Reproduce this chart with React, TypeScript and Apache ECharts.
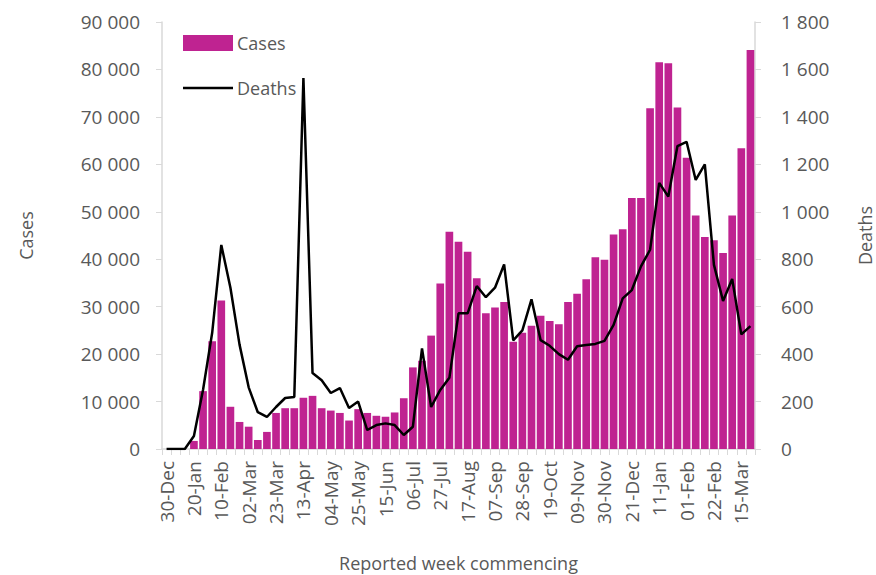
import React, { useEffect, useRef } from "react";
import * as echarts from "echarts";

const weeks = [
  "30-Dec", "06-Jan", "13-Jan", "20-Jan", "27-Jan", "03-Feb", "10-Feb", "17-Feb", "24-Feb", "02-Mar",
  "09-Mar", "16-Mar", "23-Mar", "30-Mar", "06-Apr", "13-Apr", "20-Apr", "27-Apr", "04-May", "11-May",
  "18-May", "25-May", "01-Jun", "08-Jun", "15-Jun", "22-Jun", "29-Jun", "06-Jul", "13-Jul", "20-Jul",
  "27-Jul", "03-Aug", "10-Aug", "17-Aug", "24-Aug", "31-Aug", "07-Sep", "14-Sep", "21-Sep", "28-Sep",
  "05-Oct", "12-Oct", "19-Oct", "26-Oct", "02-Nov", "09-Nov", "16-Nov", "23-Nov", "30-Nov", "07-Dec",
  "14-Dec", "21-Dec", "28-Dec", "04-Jan", "11-Jan", "18-Jan", "25-Jan", "01-Feb", "08-Feb", "15-Feb",
  "22-Feb", "01-Mar", "08-Mar", "15-Mar", "22-Mar",
];

const cases = [
  0, 0, 0, 1700, 12200, 22700, 31300, 8900, 5700, 4700,
  1900, 3600, 7600, 8600, 8600, 10800, 11200, 8600, 8100, 7600,
  6000, 8400, 7600, 7000, 6800, 7700, 10700, 17200, 18600, 23900,
  34900, 45800, 43700, 41600, 36000, 28600, 29800, 31000, 22600, 24500,
  26000, 28100, 27000, 26300, 31000, 32700, 35800, 40400, 39900, 45200,
  46300, 52900, 52900, 71800, 81500, 81300, 72000, 61400, 49200, 44700,
  44000, 41300, 49200, 63400, 84100,
];

const deaths = [
  0, 0, 0, 55, 250, 490, 860, 680, 440, 260,
  155, 135, 177, 215, 219, 1564, 320, 290, 236, 257,
  173, 200, 80, 101, 108, 101, 59, 94, 424, 177,
  249, 300, 572, 572, 687, 640, 680, 778, 458, 500,
  631, 459, 435, 400, 376, 433, 438, 443, 456, 523,
  635, 670, 770, 840, 1122, 1064, 1277, 1295, 1134, 1200,
  776, 624, 717, 483, 518,
];

const FONT = "Open Sans";
const GREY = "#595959";
const AXIS = "#d9d9d9";

const fmt = (v: number) => String(v).replace(/\B(?=(\d{3})+(?!\d))/g, " ");

export default function App() {
  const ref = useRef<HTMLDivElement>(null);
  useEffect(() => {
    if (!ref.current) return;
    const chart = echarts.init(ref.current, null, { renderer: "svg" });
    chart.setOption({
      animation: false,
      backgroundColor: "#ffffff",
      textStyle: { fontFamily: FONT },
      grid: { left: 162, right: 121, top: 22, bottom: 126, outerBoundsMode: "none", containLabel: false },
      legend: {
        orient: "vertical",
        left: 183,
        top: 34,
        padding: 0,
        itemWidth: 50,
        itemHeight: 16,
        itemGap: 27,
        textStyle: { fontFamily: FONT, fontSize: 18, color: GREY, padding: [0, 0, 0, -1] },
        data: [
          { name: "Cases", icon: "rect" },
          { name: "Deaths", icon: "path://M0 0 H50 V2.5 H0 Z" },
        ],
      },
      xAxis: {
        type: "category",
        data: weeks,
        name: "Reported week commencing",
        nameLocation: "middle",
        nameGap: 105,
        nameMoveOverlap: false,
        nameTextStyle: { fontFamily: FONT, fontSize: 18, color: GREY },
        axisLine: { lineStyle: { color: AXIS, width: 1.5 } },
        axisTick: { show: true, interval: 0, length: 6, lineStyle: { color: AXIS } },
        axisLabel: {
          interval: 2,
          rotate: 90,
          margin: 12,
          fontFamily: FONT,
          fontSize: 19,
          color: GREY,
        },
      },
      yAxis: [
        {
          type: "value",
          min: 0,
          max: 90000,
          interval: 10000,
          name: "Cases",
          nameLocation: "middle",
          nameRotate: 90,
          nameGap: 127,
          nameMoveOverlap: false,
          nameTextStyle: { fontFamily: FONT, fontSize: 18, color: GREY },
          splitLine: { show: false },
          axisLine: { show: true, lineStyle: { color: AXIS, width: 1.5 } },
          axisTick: { show: true, length: 6, lineStyle: { color: AXIS } },
          axisLabel: { fontFamily: FONT, fontSize: 19, color: GREY, margin: 22, formatter: (v: number) => fmt(v) },
        },
        {
          type: "value",
          min: 0,
          max: 1800,
          interval: 200,
          position: "right",
          name: "Deaths",
          nameLocation: "middle",
          nameRotate: 90,
          nameGap: 101,
          nameMoveOverlap: false,
          nameTextStyle: { fontFamily: FONT, fontSize: 18, color: GREY },
          splitLine: { show: false },
          axisLine: { show: true, lineStyle: { color: AXIS, width: 1.5 } },
          axisTick: { show: true, length: 6, lineStyle: { color: AXIS } },
          axisLabel: { fontFamily: FONT, fontSize: 19, color: GREY, margin: 26, formatter: (v: number) => fmt(v) },
        },
      ],
      series: [
        {
          name: "Cases",
          type: "bar",
          data: cases,
          yAxisIndex: 0,
          barCategoryGap: "16%",
          itemStyle: { color: "#BF2391" },
        },
        {
          name: "Deaths",
          type: "line",
          data: deaths,
          yAxisIndex: 1,
          symbol: "none",
          lineStyle: { color: "#000000", width: 2.5 },
          itemStyle: { color: "#000000" },
          z: 3,
        },
      ],
    });
    return () => chart.dispose();
  }, []);
  return (
    <div
      ref={ref}
      style={{ position: "fixed", left: 0, top: 0, width: 876, height: 575 }}
    />
  );
}
